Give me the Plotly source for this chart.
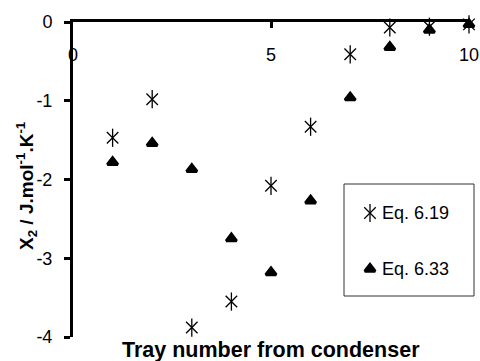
import plotly.graph_objects as go

# Tray positions (counted from the condenser)
trays = [1, 2, 3, 4, 5, 6, 7, 8, 9, 10]

# X2 values from the two equations (J/mol/K)
eq_619 = [-1.47, -0.98, -3.88, -3.55, -2.08, -1.33, -0.41, -0.07, -0.06, -0.03]
eq_633 = [-1.78, -1.54, -1.87, -2.75, -3.18, -2.27, -0.96, -0.32, -0.10, -0.03]

x_ticks = [0, 5, 10]
y_ticks = [0, -1, -2, -3, -4]

series_names = ["Eq. 6.19", "Eq. 6.33"]

FONT = "Liberation Sans, Arial, sans-serif"
W, H = 480, 361
L, R, T, B = 73, 11, 22, 24

fig = go.Figure()

star_x = dict(symbol="x-thin-open", size=11.5, color="black",
              line=dict(color="black", width=1.3))
star_v = dict(symbol="line-ns-open", size=13, color="black",
              line=dict(color="black", width=1.3))
tri = dict(symbol="triangle-up", size=9, color="black",
           line=dict(color="black", width=3))

# six-armed star: an X with a vertical stroke through it
fig.add_trace(go.Scatter(x=trays, y=eq_619, name=series_names[0], mode="markers",
                         cliponaxis=False, marker=star_x))
fig.add_trace(go.Scatter(x=trays, y=eq_619, name=series_names[0], mode="markers",
                         cliponaxis=False, marker=star_v, hoverinfo="skip"))
fig.add_trace(go.Scatter(x=trays, y=eq_633, name=series_names[1], mode="markers",
                         cliponaxis=False, marker=tri))

# key panel drawn on a pixel-scaled overlay axis
def px_x(p):
    return (p - L) / (W - L - R)

def px_y(p):
    return (H - B - p) / (H - T - B)

key_x = 370
key_rows = [213, 269]
for marker, row in [(star_x, key_rows[0]), (star_v, key_rows[0]), (tri, key_rows[1])]:
    fig.add_trace(go.Scatter(x=[key_x], y=[row], xaxis="x2", yaxis="y2", mode="markers",
                             cliponaxis=False, hoverinfo="skip", marker=marker))

annotations = []
for name, row in zip(series_names, key_rows):
    annotations.append(dict(x=px_x(380), y=px_y(row), xref="paper", yref="paper",
                            text=name, showarrow=False, xanchor="left", yanchor="middle",
                            font=dict(family=FONT, size=18, color="black")))

# x tick labels sit below the axis line, which runs along the top at y = 0
for v in x_ticks:
    annotations.append(dict(x=v, y=0, xref="x", yref="y", text=str(v), showarrow=False,
                            xanchor="center", yanchor="top", yshift=-21,
                            font=dict(family=FONT, size=18, color="black")))

annotations.append(dict(x=px_x(271), y=px_y(350), xref="paper", yref="paper",
                        text="<b>Tray number from condenser</b>", showarrow=False,
                        xanchor="center", yanchor="middle",
                        font=dict(family=FONT, size=21.5, color="black")))
annotations.append(dict(x=px_x(27), y=px_y(186), xref="paper", yref="paper",
                        text="<b>X<sub>2</sub> / J.mol<sup>-1</sup>.K<sup>-1</sup></b>",
                        showarrow=False, textangle=-90, xanchor="center", yanchor="middle",
                        font=dict(family=FONT, size=19, color="black")))

fig.update_layout(
    width=W, height=H,
    margin=dict(l=L, r=R, t=T, b=B),
    paper_bgcolor="white", plot_bgcolor="white",
    showlegend=False,
    font=dict(family=FONT, size=18, color="black"),
    xaxis=dict(range=[0, 10], side="top", anchor="y", tickvals=x_ticks,
               ticks="inside", ticklen=6, tickwidth=2.5, tickcolor="black",
               showticklabels=False,
               showline=True, linecolor="black", linewidth=3,
               showgrid=False, zeroline=False),
    yaxis=dict(range=[-4, 0], tickvals=y_ticks, ticktext=[str(v) for v in y_ticks],
               ticks="outside", ticklen=6, tickwidth=2.5, tickcolor="black",
               ticklabelstandoff=8,
               showline=True, linecolor="black", linewidth=3,
               showgrid=False, zeroline=False,
               tickfont=dict(family=FONT, size=18, color="black")),
    xaxis2=dict(range=[L, W - R], overlaying="x", visible=False),
    yaxis2=dict(range=[H - B, T], overlaying="y", visible=False),
    shapes=[dict(type="rect", xref="paper", yref="paper",
                 x0=px_x(344), x1=px_x(474), y0=px_y(296), y1=px_y(184),
                 line=dict(color="#333333", width=1), fillcolor="rgba(0,0,0,0)")],
    annotations=annotations,
)

fig.write_html("out.html")
